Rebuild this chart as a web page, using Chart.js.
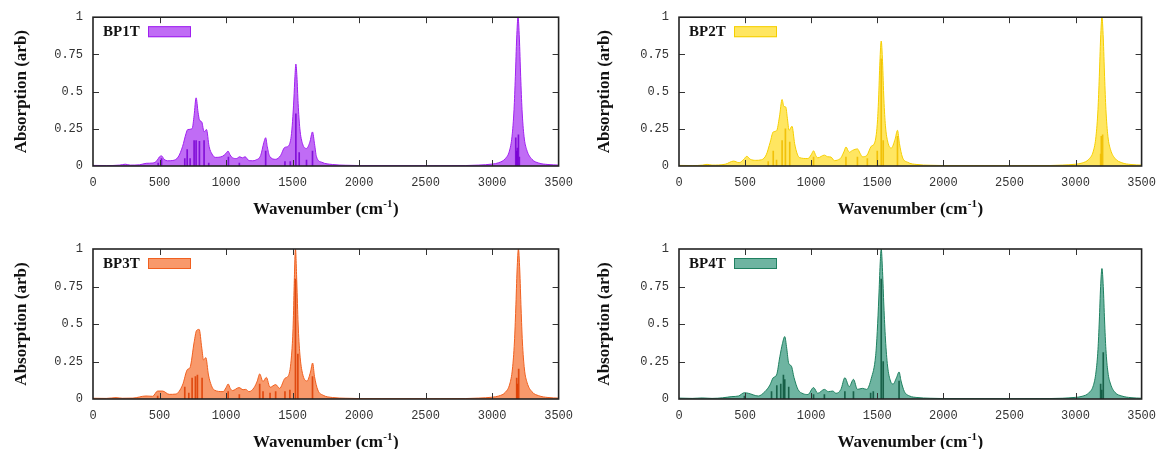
<!DOCTYPE html>
<html>
<head>
<meta charset="utf-8">
<script src="https://cdn.jsdelivr.net/npm/chart.js@4.4.1/dist/chart.umd.min.js"></script>
<style>
    body { margin: 0; background: #fff; }
    #wrap { position: relative; width: 1166px; height: 449px; overflow: hidden; }
    canvas { position: absolute; }
</style>
</head>
<body>
<div id="wrap">
    <canvas id="chartBP1T" width="583" height="225" style="left:0;top:0"></canvas>
    <canvas id="chartBP2T" width="583" height="225" style="left:583px;top:0"></canvas>
    <canvas id="chartBP3T" width="583" height="224" style="left:0;top:225px"></canvas>
    <canvas id="chartBP4T" width="583" height="224" style="left:583px;top:225px"></canvas>
</div>
<script>
// Data Start

const xTicks = [0, 500, 1000, 1500, 2000, 2500, 3000, 3500];
const yTicks = [0, 0.25, 0.5, 0.75, 1];

const labels = ['BP1T', 'BP2T', 'BP3T', 'BP4T'];

// BP1T spectrum (wavenumber, absorption)
const bp1tX = [0, 100, 200, 243, 280, 350, 400, 450, 480, 500, 515, 535, 560, 600, 640, 673, 700, 712, 745, 760, 775, 790, 800, 818, 835, 853, 873, 895, 920, 973, 1000, 1015, 1030, 1048, 1078, 1103, 1123, 1143, 1173, 1200, 1223, 1260, 1285, 1298, 1310, 1328, 1373, 1410, 1440, 1470, 1490, 1500, 1510, 1518, 1525, 1533, 1542, 1555, 1575, 1605, 1630, 1650, 1665, 1680, 1720, 1800, 1900, 2000, 2500, 2800, 2900, 3000, 3050, 3100, 3130, 3150, 3165, 3175, 3185, 3195, 3205, 3215, 3225, 3240, 3260, 3300, 3350, 3420, 3500];
const bp1tY = [0.004, 0.003, 0.006, 0.012, 0.006, 0.008, 0.018, 0.02, 0.035, 0.062, 0.068, 0.045, 0.035, 0.037, 0.06, 0.13, 0.22, 0.245, 0.25, 0.34, 0.458, 0.36, 0.31, 0.295, 0.23, 0.245, 0.13, 0.08, 0.058, 0.065, 0.085, 0.1, 0.075, 0.056, 0.05, 0.062, 0.055, 0.062, 0.036, 0.035, 0.04, 0.07, 0.16, 0.19, 0.13, 0.065, 0.045, 0.07, 0.124, 0.135, 0.2, 0.3, 0.45, 0.6, 0.685, 0.6, 0.42, 0.25, 0.15, 0.118, 0.16, 0.229, 0.15, 0.062, 0.025, 0.01, 0.005, 0.003, 0.002, 0.003, 0.006, 0.013, 0.022, 0.05, 0.1, 0.2, 0.38, 0.6, 0.86, 1.0, 0.86, 0.6, 0.38, 0.2, 0.11, 0.045, 0.02, 0.01, 0.006];
const bp1tStickX = [490, 515, 690, 708, 730, 760, 775, 800, 835, 870, 1018, 1100, 1298, 1443, 1483, 1525, 1550, 1605, 1650, 3178, 3185, 3190, 3198, 3205];
const bp1tStickY = [0.02, 0.05, 0.05, 0.11, 0.05, 0.17, 0.17, 0.165, 0.17, 0.02, 0.06, 0.02, 0.1, 0.03, 0.03, 0.35, 0.09, 0.04, 0.1, 0.19, 0.1, 0.12, 0.21, 0.06];

// BP2T spectrum
const bp2tX = [0, 100, 180, 213, 250, 350, 413, 455, 490, 513, 540, 580, 625, 660, 690, 713, 738, 760, 780, 793, 808, 820, 833, 855, 875, 895, 913, 975, 1000, 1018, 1035, 1050, 1100, 1125, 1150, 1175, 1200, 1225, 1250, 1263, 1288, 1313, 1350, 1370, 1388, 1420, 1455, 1480, 1500, 1510, 1520, 1530, 1540, 1550, 1562, 1580, 1606, 1635, 1653, 1668, 1690, 1730, 1800, 1900, 2000, 2500, 2800, 2900, 3000, 3050, 3100, 3135, 3155, 3170, 3180, 3190, 3200, 3210, 3220, 3230, 3245, 3265, 3300, 3350, 3420, 3500];
const bp2tY = [0.004, 0.003, 0.006, 0.011, 0.006, 0.012, 0.033, 0.022, 0.045, 0.065, 0.045, 0.038, 0.042, 0.075, 0.16, 0.229, 0.236, 0.33, 0.447, 0.4, 0.396, 0.32, 0.24, 0.267, 0.15, 0.08, 0.056, 0.05, 0.075, 0.102, 0.07, 0.055, 0.073, 0.062, 0.06, 0.036, 0.04, 0.055, 0.1, 0.128, 0.092, 0.105, 0.115, 0.085, 0.062, 0.07, 0.133, 0.155, 0.28, 0.45, 0.7, 0.84, 0.7, 0.45, 0.27, 0.16, 0.12, 0.18, 0.24, 0.15, 0.06, 0.025, 0.01, 0.005, 0.003, 0.002, 0.003, 0.006, 0.012, 0.02, 0.045, 0.1, 0.2, 0.38, 0.6, 0.86, 1.0, 0.86, 0.6, 0.38, 0.2, 0.11, 0.05, 0.022, 0.01, 0.006];
const bp2tStickX = [675, 713, 738, 780, 805, 838, 1018, 1263, 1350, 1425, 1500, 1530, 1545, 1653, 3190, 3195, 3205];
const bp2tStickY = [0.03, 0.1, 0.04, 0.17, 0.25, 0.16, 0.06, 0.06, 0.06, 0.05, 0.1, 0.72, 0.17, 0.2, 0.08, 0.2, 0.21];

// BP3T spectrum
const bp3tX = [0, 100, 173, 220, 300, 398, 448, 486, 523, 573, 623, 673, 711, 728, 761, 778, 798, 818, 831, 848, 868, 890, 911, 978, 1000, 1016, 1032, 1048, 1098, 1128, 1148, 1173, 1211, 1235, 1253, 1278, 1303, 1331, 1373, 1403, 1443, 1473, 1495, 1505, 1512, 1522, 1532, 1542, 1555, 1575, 1609, 1635, 1651, 1665, 1690, 1730, 1800, 1900, 2000, 2500, 2800, 2900, 3000, 3050, 3100, 3133, 3153, 3168, 3178, 3188, 3198, 3208, 3218, 3228, 3243, 3263, 3300, 3350, 3420, 3500];
const bp3tY = [0.005, 0.004, 0.009, 0.005, 0.006, 0.02, 0.018, 0.053, 0.053, 0.031, 0.033, 0.093, 0.198, 0.207, 0.382, 0.456, 0.464, 0.338, 0.26, 0.276, 0.16, 0.09, 0.06, 0.049, 0.075, 0.1, 0.07, 0.056, 0.076, 0.062, 0.064, 0.049, 0.076, 0.12, 0.167, 0.116, 0.144, 0.078, 0.096, 0.071, 0.138, 0.164, 0.32, 0.5, 0.75, 1.0, 0.78, 0.5, 0.3, 0.17, 0.12, 0.18, 0.24, 0.15, 0.06, 0.025, 0.01, 0.005, 0.003, 0.002, 0.003, 0.006, 0.012, 0.02, 0.045, 0.1, 0.2, 0.38, 0.6, 0.86, 1.0, 0.86, 0.6, 0.38, 0.2, 0.11, 0.048, 0.022, 0.01, 0.006];
const bp3tStickX = [486, 690, 720, 745, 770, 785, 820, 1016, 1100, 1253, 1278, 1331, 1373, 1443, 1480, 1522, 1540, 1650, 3185, 3190, 3200];
const bp3tStickY = [0.02, 0.08, 0.04, 0.14, 0.15, 0.16, 0.14, 0.05, 0.03, 0.1, 0.05, 0.04, 0.05, 0.05, 0.06, 0.8, 0.3, 0.15, 0.14, 0.1, 0.2];

// BP4T spectrum
const bp4tX = [0, 100, 175, 250, 330, 400, 450, 495, 525, 600, 650, 688, 713, 738, 763, 783, 800, 815, 830, 850, 870, 900, 940, 975, 1018, 1050, 1100, 1130, 1163, 1188, 1225, 1255, 1288, 1320, 1350, 1388, 1420, 1455, 1488, 1500, 1512, 1522, 1530, 1540, 1550, 1562, 1578, 1600, 1620, 1645, 1665, 1680, 1705, 1745, 1800, 1900, 2000, 2500, 2800, 2900, 3000, 3050, 3100, 3135, 3155, 3170, 3180, 3190, 3200, 3210, 3220, 3230, 3245, 3265, 3300, 3350, 3420, 3500];
const bp4tY = [0.006, 0.004, 0.007, 0.004, 0.008, 0.016, 0.02, 0.042, 0.038, 0.02, 0.049, 0.093, 0.142, 0.16, 0.282, 0.371, 0.416, 0.338, 0.238, 0.22, 0.144, 0.064, 0.035, 0.03, 0.076, 0.038, 0.064, 0.049, 0.053, 0.038, 0.064, 0.142, 0.082, 0.131, 0.064, 0.071, 0.064, 0.138, 0.29, 0.45, 0.68, 0.9, 1.0, 0.85, 0.62, 0.4, 0.22, 0.12, 0.1, 0.14, 0.18, 0.12, 0.05, 0.02, 0.01, 0.005, 0.003, 0.002, 0.003, 0.005, 0.011, 0.018, 0.04, 0.09, 0.18, 0.33, 0.52, 0.75, 0.87, 0.75, 0.52, 0.33, 0.18, 0.1, 0.043, 0.02, 0.009, 0.005];
const bp4tStickX = [495, 700, 740, 770, 790, 800, 830, 1018, 1100, 1255, 1320, 1450, 1470, 1530, 1545, 1665, 3190, 3198, 3210];
const bp4tStickY = [0.02, 0.05, 0.09, 0.1, 0.16, 0.13, 0.08, 0.03, 0.03, 0.05, 0.05, 0.04, 0.05, 0.8, 0.25, 0.12, 0.1, 0.06, 0.31];

// Data End

// gnuplot-like frame, inward ticks, legend and axis titles
const framePlugin = {
    id: 'frame',
    afterDraw(chart) {
        const ctx = chart.ctx;
        const a = chart.chartArea;
        const xs = chart.scales.x;
        const ys = chart.scales.y;
        const opts = chart.options.plugins.frame;
        ctx.save();

        ctx.strokeStyle = '#333';
        ctx.lineWidth = 1;
        ctx.beginPath();
        xTicks.slice(1, -1).forEach(v => {
            let px = Math.round(xs.getPixelForValue(v)) + 0.5;
            ctx.moveTo(px, a.bottom); ctx.lineTo(px, a.bottom - 6);
            ctx.moveTo(px, a.top); ctx.lineTo(px, a.top + 6);
        });
        yTicks.slice(1, -1).forEach(v => {
            let py = Math.round(ys.getPixelForValue(v)) + 0.5;
            ctx.moveTo(a.left, py); ctx.lineTo(a.left + 6, py);
            ctx.moveTo(a.right, py); ctx.lineTo(a.right - 6, py);
        });
        ctx.stroke();

        ctx.lineWidth = 1.6;
        ctx.strokeStyle = '#222';
        ctx.strokeRect(a.left, a.top, a.right - a.left, a.bottom - a.top);

        // legend
        ctx.fillStyle = '#111';
        ctx.font = 'bold 15px "Liberation Serif"';
        ctx.textBaseline = 'middle';
        ctx.textAlign = 'left';
        ctx.fillText(opts.label, a.left + 10, a.top + 15);
        ctx.fillStyle = opts.fill;
        ctx.strokeStyle = opts.line;
        ctx.lineWidth = 1;
        ctx.fillRect(a.left + 55, a.top + 9, 43, 11);
        ctx.strokeRect(a.left + 55.5, a.top + 9.5, 42, 10);

        // x title with superscript
        ctx.fillStyle = '#111';
        const cx = (a.left + a.right) / 2;
        const ty = a.bottom + 44;
        const t1 = 'Wavenumber (cm', t2 = '-1', t3 = ')';
        ctx.font = 'bold 17px "Liberation Serif"';
        const w1 = ctx.measureText(t1).width, w3 = ctx.measureText(t3).width;
        ctx.font = 'bold 11px "Liberation Serif"';
        const w2 = ctx.measureText(t2).width;
        let sx = cx - (w1 + w2 + w3 + 1) / 2;
        ctx.font = 'bold 17px "Liberation Serif"';
        ctx.fillText(t1, sx, ty);
        ctx.font = 'bold 11px "Liberation Serif"';
        ctx.fillText(t2, sx + w1 + 0.5, ty - 6);
        ctx.font = 'bold 17px "Liberation Serif"';
        ctx.fillText(t3, sx + w1 + w2 + 1, ty);

        // y title
        ctx.translate(22, (a.top + a.bottom) / 2);
        ctx.rotate(-Math.PI / 2);
        ctx.textAlign = 'center';
        ctx.fillText('Absorption (arb)', 0, 0);
        ctx.restore();
    }
};

function makeChart(id, label, xs, ys, stickX, stickY, line, fill, stick, yWidth, pad, xHeight) {
    return new Chart(document.getElementById(id), {
        type: 'line',
        data: {
            datasets: [{
                type: 'bar',
                label: label + ' sticks',
                data: stickX.map((x, i) => ({ x: x, y: stickY[i] })),
                backgroundColor: stick,
                barThickness: 1,
                order: 0
            }, {
                type: 'line',
                label: label,
                data: xs.map((x, i) => ({ x: x, y: ys[i] })),
                borderColor: line,
                backgroundColor: fill,
                borderWidth: 1,
                pointRadius: 0,
                fill: 'origin',
                cubicInterpolationMode: 'monotone',
                order: 1
            }]
        },
        options: {
            responsive: false,
            animation: false,
            devicePixelRatio: 1,
            layout: { padding: pad },
            plugins: {
                legend: { display: false },
                tooltip: { enabled: false },
                frame: { label: label, line: line, fill: fill }
            },
            scales: {
                x: {
                    type: 'linear',
                    min: 0,
                    max: 3500,
                    offset: false,
                    grid: { display: false, drawTicks: false },
                    border: { display: false },
                    afterBuildTicks: s => { s.ticks = xTicks.map(v => ({ value: v })); },
                    afterFit: s => { s.height = xHeight; },
                    ticks: {
                        autoSkip: false,
                        maxRotation: 0,
                        padding: 10,
                        color: '#333',
                        font: { family: 'Liberation Mono', size: 12 },
                        callback: v => String(v)
                    }
                },
                y: {
                    min: 0,
                    max: 1,
                    grid: { display: false, drawTicks: false },
                    border: { display: false },
                    afterBuildTicks: s => { s.ticks = yTicks.map(v => ({ value: v })); },
                    afterFit: s => { s.width = yWidth; },
                    ticks: {
                        padding: 10,
                        color: '#333',
                        font: { family: 'Liberation Mono', size: 12 },
                        callback: v => String(v)
                    }
                }
            }
        },
        plugins: [framePlugin]
    });
}

// Charts Start
let chart1 = makeChart('chartBP1T', labels[0], bp1tX, bp1tY, bp1tStickX, bp1tStickY,
    '#a020f0', 'rgba(160, 32, 240, 0.66)', 'rgba(120, 0, 210, 0.85)',
    93, { top: 17, right: 23, left: 0, bottom: 0 }, 59);

let chart2 = makeChart('chartBP2T', labels[1], bp2tX, bp2tY, bp2tStickX, bp2tStickY,
    '#f5cf00', 'rgba(255, 215, 0, 0.62)', 'rgba(240, 190, 0, 0.9)',
    96, { top: 17, right: 20, left: 0, bottom: 0 }, 59);

let chart3 = makeChart('chartBP3T', labels[2], bp3tX, bp3tY, bp3tStickX, bp3tStickY,
    '#f06020', 'rgba(245, 100, 30, 0.66)', 'rgba(220, 60, 0, 0.85)',
    93, { top: 24, right: 23, left: 0, bottom: 0 }, 50);

let chart4 = makeChart('chartBP4T', labels[3], bp4tX, bp4tY, bp4tStickX, bp4tStickY,
    '#1f8060', 'rgba(32, 140, 110, 0.65)', 'rgba(10, 85, 60, 0.85)',
    96, { top: 24, right: 20, left: 0, bottom: 0 }, 50);
// Charts End
</script>
</body>
</html>
